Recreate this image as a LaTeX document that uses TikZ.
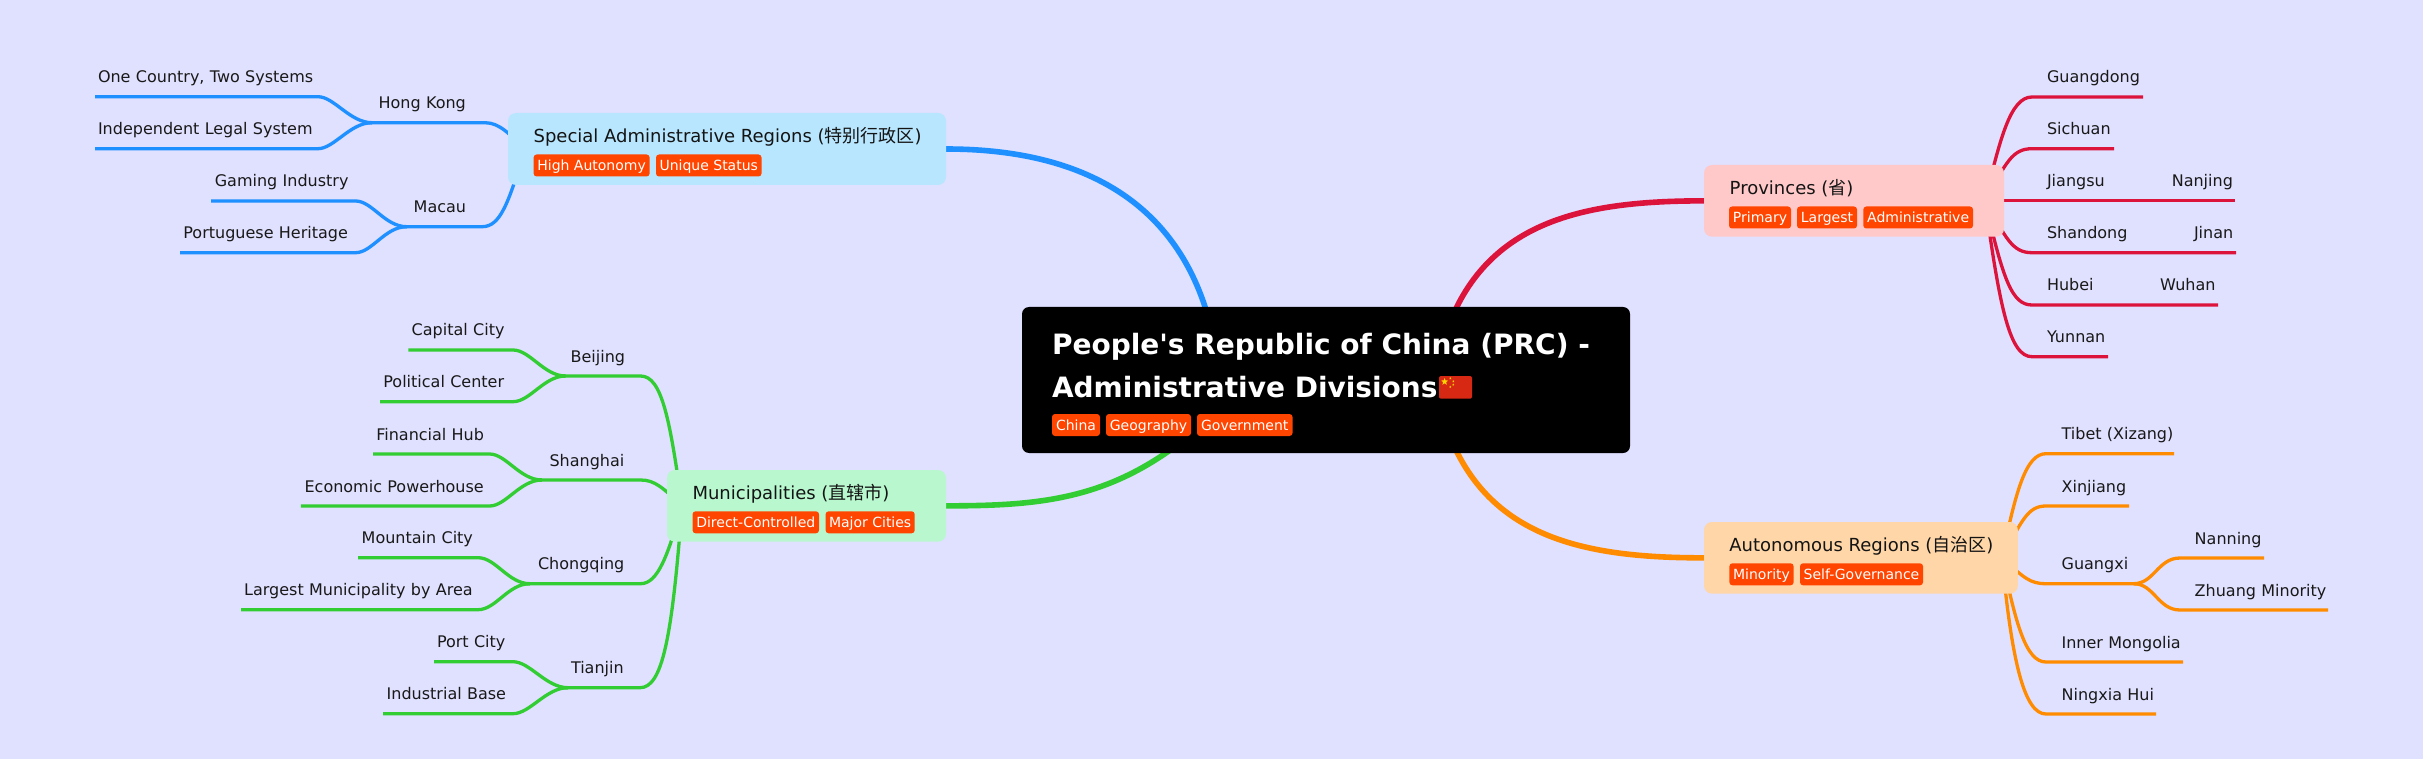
\documentclass[tikz,border=0pt]{standalone}
\usepackage{fontspec}
\setmainfont{DejaVu Sans}[Ligatures=TeXOff]
\newfontfamily\cjkfont{Noto Sans CJK SC}
\usetikzlibrary{backgrounds,shapes.geometric}
\definecolor{pagebg}{RGB}{224,224,255}
\definecolor{tagbg}{RGB}{255,69,0}
\definecolor{cblue}{RGB}{30,144,255}
\definecolor{cred}{RGB}{220,20,60}
\definecolor{cgreen}{RGB}{50,205,50}
\definecolor{corange}{RGB}{255,140,0}
\definecolor{fblue}{RGB}{184,230,254}
\definecolor{fred}{RGB}{255,201,201}
\definecolor{fgreen}{RGB}{185,248,207}
\definecolor{forange}{RGB}{255,214,168}
\definecolor{flagred}{RGB}{215,40,20}
\definecolor{flagyel}{RGB}{255,215,0}
\tikzset{
  x=1pt,y=-1pt,
  leaftxt/.style={inner sep=0pt,outer sep=0pt,text height=12pt,text depth=14pt,minimum height=26pt,align=left,font=\fontsize{16}{20}\selectfont,text=black!90},
  tagbox/.style={fill=tagbg,rounded corners=3pt,inner sep=0pt,outer sep=0pt,minimum height=22pt,text height=16pt,text depth=6pt,text=white,font=\fontsize{14}{17}\selectfont},
  catbox/.style={rounded corners=8pt,inner sep=0pt,outer sep=0pt,anchor=north west},
  cattxt/.style={inner sep=0pt,outer sep=0pt,anchor=base west,font=\fontsize{18}{22}\selectfont,text=black!92},
  roottxt/.style={inner sep=0pt,outer sep=0pt,anchor=base west,font=\fontsize{28}{34}\bfseries\selectfont,text=white},
  main/.style={line width=5.6pt,line cap=butt},
  sub/.style={line width=3.3pt,line cap=butt},
  flagstar/.style={star,star points=5,star point ratio=2.4,fill=flagyel,inner sep=0pt,outer sep=0pt,minimum size=#1}
}
\newcommand{\leafn}[6]{\node[leaftxt,anchor=south west,text width={#3-#2},minimum width={#3-#2}] (#1) at (#2,#4) {\hspace*{#5pt}\mbox{#6}};}
\newcommand{\tagn}[5]{\node[tagbox,anchor=north west,minimum width={#3-#2}] (#1) at (#2,#4) {#5};}
\newcommand{\catn}[6]{\node[catbox,fill=#6,minimum width={#3-#2},minimum height={#5-#4}] (#1) at (#2,#4) {};}
\begin{document}
\begin{tikzpicture}
\useasboundingbox (0,0) rectangle (2423,759);
% root
\node[catbox,rounded corners=7pt,fill=black,minimum width=608pt,minimum height=146pt] (root) at (1022,307) {};
\node[roottxt] (rootA) at (1052,355) {People's Republic of China (PRC) -};
\node[roottxt] (rootB) at (1052,397) {Administrative Divisions};
\node[fill=flagred,rounded corners=2pt,inner sep=0pt,outer sep=0pt,anchor=north west,minimum width=33pt,minimum height=22.7pt] (flag) at (1439,376) {};
\node[flagstar=7.5pt] (fs0) at (1444.6,381.7) {};
\node[flagstar=2.4pt] (fs1) at (1450.3,378.3) {};
\node[flagstar=2.4pt] (fs2) at (1453.3,381.3) {};
\node[flagstar=2.4pt] (fs3) at (1453.3,384.7) {};
\node[flagstar=2.4pt] (fs4) at (1450.3,386.9) {};
\tagn{tChina}{1052}{1100}{414}{China}
\tagn{tGeo}{1106}{1191}{414}{Geography}
\tagn{tGov}{1197}{1292.5}{414}{Government}
% categories
\catn{sar}{508}{946}{113}{185}{fblue}
\node[cattxt] (sarT) at (533.6,142.5) {Special Administrative Regions ({\cjkfont 特别行政区})};
\tagn{tHigh}{533.6}{649.6}{154.5}{High Autonomy}
\tagn{tUniq}{656}{761.5}{154.5}{Unique Status}
\catn{muni}{667}{946}{470}{541.7}{fgreen}
\node[cattxt] (muniT) at (692.5,499.5) {Municipalities ({\cjkfont 直辖市})};
\tagn{tDirect}{692.5}{819}{511.3}{Direct-Controlled}
\tagn{tMajor}{825.6}{914.7}{511.3}{Major Cities}
\catn{prov}{1704}{2004}{165}{236.7}{fred}
\node[cattxt] (provT) at (1729.7,194.5) {Provinces ({\cjkfont 省})};
\tagn{tPrim}{1729}{1791}{206.5}{Primary}
\tagn{tLarg}{1797}{1857}{206.5}{Largest}
\tagn{tAdm}{1863.3}{1973}{206.5}{Administrative}
\catn{auto}{1704}{2017.8}{522}{593.7}{forange}
\node[cattxt] (autoT) at (1729.4,551.5) {Autonomous Regions ({\cjkfont 自治区})};
\tagn{tMin}{1729.4}{1793.6}{563.3}{Minority}
\tagn{tSelf}{1800}{1923}{563.3}{Self-Governance}
% SAR children
\leafn{hk}{364}{485}{122.7}{14.6}{Hong Kong}
\leafn{macau}{398.7}{482}{226.7}{15}{Macau}
\leafn{ocean}{95}{318}{96.7}{3}{One Country, Two Systems}
\leafn{legal}{95}{318}{148.7}{3}{Independent Legal System}
\leafn{gaming}{211}{355.6}{201}{3.8}{Gaming Industry}
\leafn{port}{180}{355.6}{252.7}{3.4}{Portuguese Heritage}
% Municipalities
\leafn{bj}{555.6}{640.6}{376}{15}{Beijing}
\leafn{sh}{532}{640.6}{480}{17.5}{Shanghai}
\leafn{cq}{520}{640.6}{583.7}{18}{Chongqing}
\leafn{tj}{558}{640}{687.7}{13}{Tianjin}
\leafn{capital}{408.4}{513}{350}{3.3}{Capital City}
\leafn{polit}{380}{513}{401.7}{3.4}{Political Center}
\leafn{fin}{373}{489.6}{454}{3.3}{Financial Hub}
\leafn{econ}{300.8}{489.6}{506}{3.8}{Economic Powerhouse}
\leafn{mount}{358}{478}{557.7}{3.7}{Mountain City}
\leafn{large}{241}{478}{609.7}{3.2}{Largest Municipality by Area}
\leafn{portc}{434}{513}{661.7}{3}{Port City}
\leafn{indus}{383}{513}{713.7}{3.7}{Industrial Base}
% Provinces
\leafn{gd}{2032}{2143}{97}{15}{Guangdong}
\leafn{sc}{2032}{2114}{148.7}{15}{Sichuan}
\leafn{js}{2032}{2156}{200.7}{15}{Jiangsu}
\leafn{nj}{2156}{2235}{200.7}{15.8}{Nanjing}
\leafn{sd}{2032}{2178}{252.7}{15}{Shandong}
\leafn{jn}{2178}{2236}{252.7}{16}{Jinan}
\leafn{hb}{2032}{2145}{305}{15}{Hubei}
\leafn{wh}{2145}{2218}{305}{15}{Wuhan}
\leafn{yn}{2032}{2108}{356.7}{15}{Yunnan}
% Autonomous
\leafn{tibet}{2046}{2174}{453.7}{15.6}{Tibet (Xizang)}
\leafn{xj}{2046}{2129}{506}{15.6}{Xinjiang}
\leafn{gx}{2046}{2139.7}{583.7}{15.6}{Guangxi}
\leafn{nn}{2180}{2264}{558}{14.7}{Nanning}
\leafn{zh}{2180}{2328}{610}{14.7}{Zhuang Minority}
\leafn{im}{2046}{2183}{662}{15.6}{Inner Mongolia}
\leafn{nx}{2046}{2156}{714}{15.6}{Ningxia Hui}
\begin{pgfonlayer}{background}
\fill[pagebg] (0,0) rectangle (2423,759);
\coordinate (sarHub) at (525,149);
\coordinate (muniHub) at (682,505.8);
\coordinate (provHub) at (1985,200.7);
\coordinate (autoHub) at (2002,557.8);
% main links
\draw[main,cblue] (sar.east) .. controls (1060,149) and (1185,186) .. (1215,346);
\draw[main,cgreen] (muni.east) .. controls (1040,505.8) and (1110,500) .. (1190,435);
\draw[main,cred] (prov.west) .. controls (1590,200.9) and (1492,218) .. (1450,322);
\draw[main,corange] (auto.west) .. controls (1590,557.8) and (1492,540.6) .. (1450,436.6);
% SAR
\begin{scope}[sub,cblue]
\draw (sarHub) .. controls (510,135) and (500,122.7) .. (hk.south east) -- (hk.south west);
\draw (sarHub) .. controls (508,205) and (500,226.7) .. (macau.south east) -- (macau.south west);
\draw ([xshift=8pt]hk.south west) .. controls (350,122.7) and (334,96.7) .. (ocean.south east) -- (ocean.south west);
\draw ([xshift=8pt]hk.south west) .. controls (350,122.7) and (334,148.7) .. (legal.south east) -- (legal.south west);
\draw ([xshift=8pt]macau.south west) .. controls (385,226.7) and (372,201) .. (gaming.south east) -- (gaming.south west);
\draw ([xshift=8pt]macau.south west) .. controls (385,226.7) and (372,252.7) .. (port.south east) -- (port.south west);
\end{scope}
% Municipalities
\begin{scope}[sub,cgreen]
\draw (muniHub) .. controls (670,420) and (662,376) .. (bj.south east) -- (bj.south west);
\draw (muniHub) .. controls (663,488) and (655,480) .. (sh.south east) -- (sh.south west);
\draw (muniHub) .. controls (668,555) and (658,583.7) .. (cq.south east) -- (cq.south west);
\draw (muniHub) .. controls (672,640) and (662,687.7) .. (tj.south east) -- (tj.south west);
\draw ([xshift=10pt]bj.south west) .. controls (544,376) and (530,350) .. (capital.south east) -- (capital.south west);
\draw ([xshift=10pt]bj.south west) .. controls (544,376) and (530,401.7) .. (polit.south east) -- (polit.south west);
\draw ([xshift=10pt]sh.south west) .. controls (520,480) and (506,454) .. (fin.south east) -- (fin.south west);
\draw ([xshift=10pt]sh.south west) .. controls (520,480) and (506,506) .. (econ.south east) -- (econ.south west);
\draw ([xshift=10pt]cq.south west) .. controls (508,583.7) and (496,557.7) .. (mount.south east) -- (mount.south west);
\draw ([xshift=10pt]cq.south west) .. controls (508,583.7) and (496,609.7) .. (large.south east) -- (large.south west);
\draw ([xshift=10pt]tj.south west) .. controls (546,687.7) and (530,661.7) .. (portc.south east) -- (portc.south west);
\draw ([xshift=10pt]tj.south west) .. controls (546,687.7) and (530,713.7) .. (indus.south east) -- (indus.south west);
\end{scope}
% Provinces
\begin{scope}[sub,cred]
\draw (provHub) .. controls (2000,140) and (2010,97) .. (gd.south west) -- (gd.south east);
\draw (provHub) .. controls (2006,163) and (2012,148.7) .. (sc.south west) -- (sc.south east);
\draw (provHub) -- (js.south west) -- (js.south east) -- (nj.south east);
\draw (provHub) .. controls (2006,238) and (2012,252.7) .. (sd.south west) -- (sd.south east) -- (jn.south east);
\draw (provHub) .. controls (2003,280) and (2012,305) .. (hb.south west) -- (hb.south east) -- (wh.south east);
\draw (provHub) .. controls (2000,310) and (2010,356.7) .. (yn.south west) -- (yn.south east);
\end{scope}
% Autonomous
\begin{scope}[sub,corange]
\draw (autoHub) .. controls (2016,490) and (2026,453.7) .. (tibet.south west) -- (tibet.south east);
\draw (autoHub) .. controls (2022,520) and (2028,506) .. (xj.south west) -- (xj.south east);
\draw (autoHub) .. controls (2024,578) and (2030,583.7) .. (gx.south west) -- (gx.south east);
\draw (autoHub) .. controls (2016,625) and (2026,662) .. (im.south west) -- (im.south east);
\draw (autoHub) .. controls (2012,665) and (2025,714) .. (nx.south west) -- (nx.south east);
\draw ([xshift=-6pt]gx.south east) .. controls (2154,583.7) and (2158,558) .. (nn.south west) -- (nn.south east);
\draw ([xshift=-6pt]gx.south east) .. controls (2154,583.7) and (2158,610) .. (zh.south west) -- (zh.south east);
\end{scope}
\end{pgfonlayer}
\end{tikzpicture}
\end{document}
